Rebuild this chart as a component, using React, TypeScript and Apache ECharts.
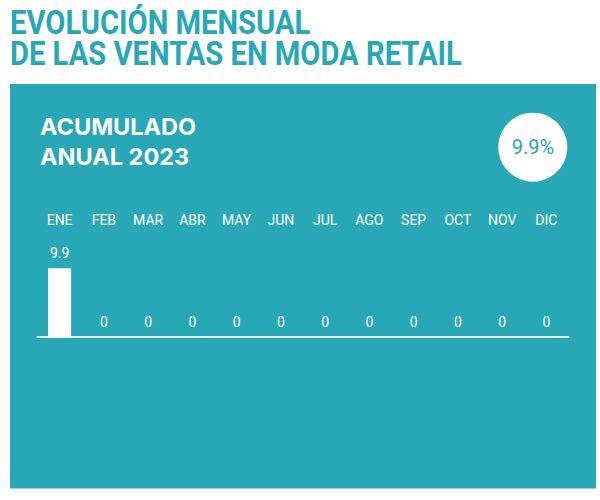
import React, { useEffect, useRef } from "react";
import * as echarts from "echarts";

const TITLE_LINES = ["EVOLUCIÓN MENSUAL", "DE LAS VENTAS EN MODA RETAIL"];
const SUBTITLE_LINES = ["ACUMULADO", "ANUAL 2023"];
const MONTHS = ["ENE", "FEB", "MAR", "ABR", "MAY", "JUN", "JUL", "AGO", "SEP", "OCT", "NOV", "DIC"];
const VALUES = [9.9, 0, 0, 0, 0, 0, 0, 0, 0, 0, 0, 0];
const ACCUMULATED = "9.9%";

const TEAL = "#28A7B6";

export default function App() {
  const ref = useRef<HTMLDivElement>(null);

  useEffect(() => {
    if (!ref.current) return;
    const chart = echarts.init(ref.current, undefined, { renderer: "svg" });
    const option: any = {
      animation: false,
      backgroundColor: "#ffffff",
      graphic: [
        { type: "rect", z: -10, shape: { x: 10, y: 84, width: 586, height: 404.5 }, style: { fill: TEAL } },
        {
          type: "text", x: 10, y: 23, scaleX: 0.89,
          style: { text: TITLE_LINES[0], fill: TEAL, font: 'bold 32.8px Roboto', verticalAlign: "middle", align: "left" },
        },
        {
          type: "text", x: 10, y: 54, scaleX: 0.89,
          style: { text: TITLE_LINES[1], fill: TEAL, font: 'bold 32.8px Roboto', verticalAlign: "middle", align: "left" },
        },
        {
          type: "text", x: 40, y: 126.7,
          style: { text: SUBTITLE_LINES[0], fill: "#ffffff", font: 'bold 23.5px Inter', verticalAlign: "middle", align: "left" },
        },
        {
          type: "text", x: 40, y: 156.3,
          style: { text: SUBTITLE_LINES[1], fill: "#ffffff", font: 'bold 23.5px Inter', verticalAlign: "middle", align: "left" },
        },
        { type: "circle", shape: { cx: 532.8, cy: 147.2, r: 34.5 }, style: { fill: "#ffffff" } },
        {
          type: "text", x: 533, y: 146.5,
          style: { text: ACCUMULATED, fill: TEAL, font: '20px Roboto', verticalAlign: "middle", align: "center" },
        },
      ],
      grid: { left: 37.5, right: 31.5, top: 226.2, bottom: 163.3 },
      xAxis: [
        {
          type: "category",
          data: MONTHS,
          position: "bottom",
          axisLine: { show: true, lineStyle: { color: "#E8F5F7", width: 2 } },
          axisTick: { show: false },
          axisLabel: { show: false },
        },
        {
          type: "category",
          data: MONTHS,
          position: "top",
          offset: -1,
          axisLine: { show: false },
          axisTick: { show: false },
          axisLabel: { show: true, color: "#ffffff", fontFamily: "Roboto", fontSize: 14, margin: 0, interval: 0 },
        },
      ],
      yAxis: { type: "value", min: 0, max: 16, show: false, splitLine: { show: false } },
      series: [
        {
          type: "bar",
          data: VALUES,
          barWidth: 23,
          itemStyle: { color: "#ffffff" },
          label: { show: true, position: "top", distance: 8, color: "#ffffff", fontFamily: "Roboto", fontSize: 14 },
        },
      ],
    };
    chart.setOption(option);
    return () => chart.dispose();
  }, []);

  return <div ref={ref} style={{ position: "fixed", left: 0, top: 0, width: 600, height: 500 }} />;
}
